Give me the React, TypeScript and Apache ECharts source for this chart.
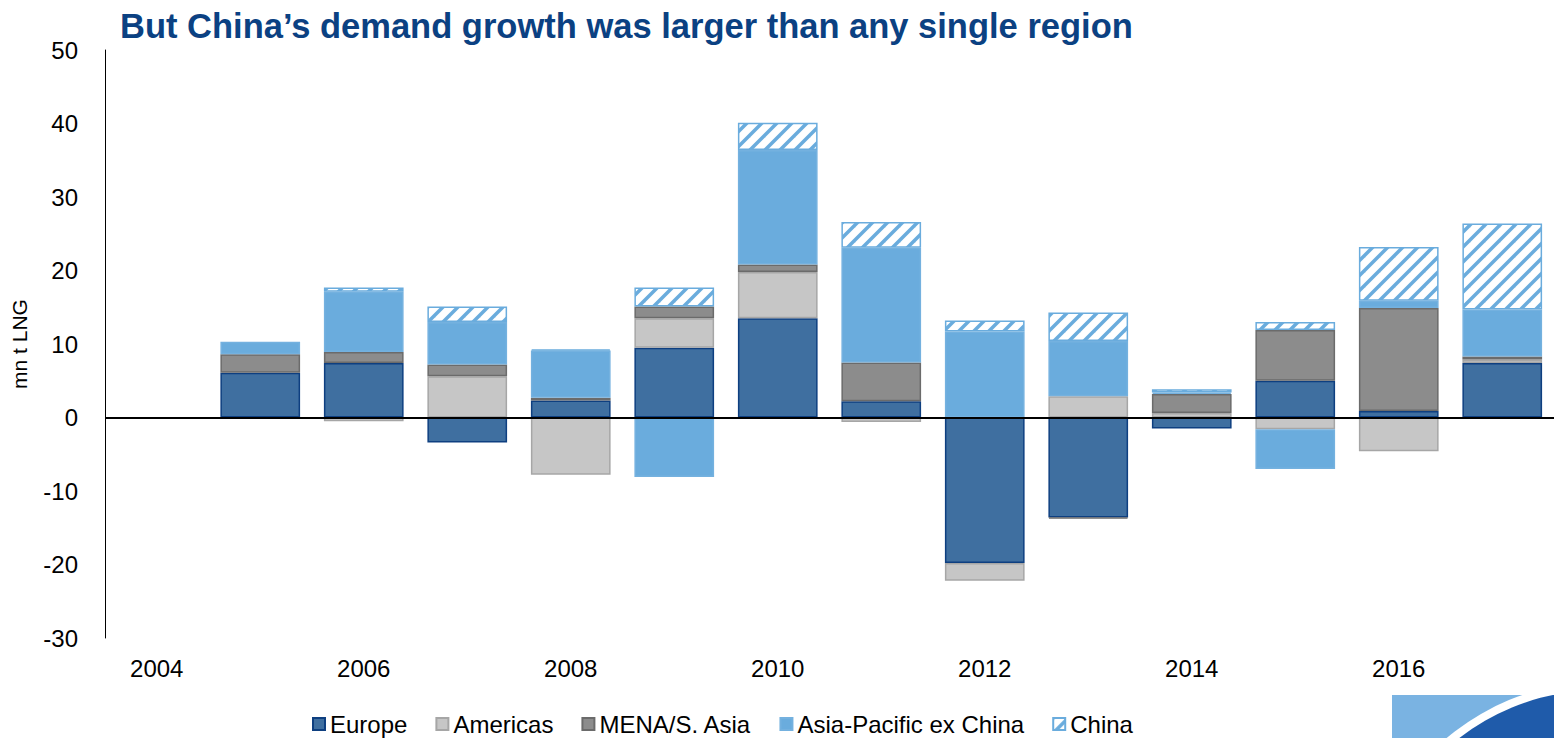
import React, { useEffect, useRef } from "react";
import * as echarts from "echarts";

const years = ["2004","2005","2006","2007","2008","2009","2010","2011","2012","2013","2014","2015","2016","2017"];
const europe =   [null, 6.1, 7.4, -3.4, 2.3, 9.5, 13.5, 2.2, -19.8, -13.6, -1.5, 5.0, 0.9, 7.4];
const americas = [null, null, -0.5, 5.6, -7.8, 4.0, 6.3, -0.6, -2.4, 2.9, 0.6, -1.6, -4.6, 0.5];
const mena =     [null, 2.5, 1.5, 1.6, 0.4, 1.6, 1.0, 5.3, null, -0.15, 2.6, 6.9, 14.0, 0.4];
const asiaPac =  [null, 1.7, 8.2, 5.8, 6.4, -8.1, 15.6, 15.6, 11.7, 7.5, 0.2, -5.4, 1.0, 6.4];
const china =    [null, null, 0.6, 2.1, 0.2, 2.6, 3.7, 3.5, 1.5, 3.9, 0.45, 1.1, 7.3, 11.7];

const TITLE = "But China\u2019s demand growth was larger than any single region";
const FONT = "'Liberation Sans', Arial, sans-serif";

function makeHatch(): HTMLCanvasElement {
  const s = 15;
  const c = document.createElement("canvas");
  c.width = s;
  c.height = s;
  const ctx = c.getContext("2d")!;
  ctx.fillStyle = "#ffffff";
  ctx.fillRect(0, 0, s, s);
  ctx.strokeStyle = "#6AACDD";
  ctx.lineWidth = 3.5;
  ctx.lineCap = "square";
  for (const k of [-1, 0, 1]) {
    ctx.beginPath();
    ctx.moveTo(k * s, s);
    ctx.lineTo(k * s + s, 0);
    ctx.stroke();
  }
  return c;
}

export default function App() {
  const ref = useRef<HTMLDivElement>(null);
  useEffect(() => {
    if (!ref.current) return;
    const chart = echarts.init(ref.current, null, { renderer: "svg" });
    const hatch = { image: makeHatch(), repeat: "repeat" } as any;
    const mk = (name: string, data: (number | null)[], color: any, border: string, extra: any = {}) => ({
      name,
      type: "bar",
      stack: "total",
      barCategoryGap: "23%",
      data,
      itemStyle: { color, borderColor: border, borderWidth: 1.5 },
      emphasis: { disabled: true },
      ...extra,
    });
    chart.setOption({
      animation: false,
      title: {
        text: TITLE,
        left: 115,
        top: 3,
        textStyle: { fontFamily: FONT, fontSize: 34.5, fontWeight: "bold", color: "#0B4182" },
      },
      legend: {
        left: 307,
        top: 707,
        itemWidth: 12,
        itemHeight: 12,
        itemGap: 28,
        icon: "rect",
        textStyle: { fontFamily: FONT, fontSize: 24, color: "#000" },
        data: ["Europe", "Americas", "MENA/S. Asia", "Asia-Pacific ex China", "China"],
      },
      grid: { left: 105, right: 0, top: 50, bottom: 100, containLabel: false },
      xAxis: {
        type: "category",
        data: years,
        axisLine: { show: false, onZero: false },
        axisTick: { show: false },
        axisLabel: { interval: 1, fontFamily: FONT, fontSize: 24, color: "#000", margin: 18 },
        splitLine: { show: false },
      },
      yAxis: {
        type: "value",
        min: -30,
        max: 50,
        interval: 10,
        name: "mn t LNG",
        nameLocation: "middle",
        nameGap: 75,
        nameTextStyle: { fontFamily: FONT, fontSize: 21, color: "#000" },
        axisLine: { show: true, lineStyle: { color: "#000", width: 1 } },
        axisTick: { show: false },
        splitLine: { show: false },
        axisLabel: { fontFamily: FONT, fontSize: 24, color: "#000", margin: 27 },
      },
      series: [
        mk("Europe", europe, "#3F6FA0", "#0E3F80", {
          markLine: {
            silent: true,
            symbol: ["none", "none"],
            label: { show: false },
            lineStyle: { color: "#000", width: 2, type: "solid" },
            data: [{ yAxis: 0 }],
          },
        }),
        mk("Americas", americas, "#C6C6C6", "#A6A6A6"),
        mk("MENA/S. Asia", mena, "#8C8C8C", "#6B6B6B"),
        mk("Asia-Pacific ex China", asiaPac, "#6AACDD", "#74B1DF"),
        mk("China", china, hatch, "#6AACDD"),
      ],
      graphic: [
        { type: "rect", z: 10, shape: { x: 1392, y: 695, width: 162, height: 43 }, style: { fill: "#7AB3E2" } },
        { type: "circle", z: 11, shape: { cx: 1600, cy: 920, r: 238 }, style: { fill: "#ffffff" } },
        { type: "circle", z: 12, shape: { cx: 1600, cy: 920, r: 230 }, style: { fill: "#1F5BAA" } },
        { type: "rect", z: 13, shape: { x: 1500, y: 680, width: 54, height: 15 }, style: { fill: "#ffffff" } },
      ],
    });
    return () => chart.dispose();
  }, []);
  return <div ref={ref} style={{ position: "absolute", left: 0, top: 0, width: 1554, height: 738 }} />;
}
